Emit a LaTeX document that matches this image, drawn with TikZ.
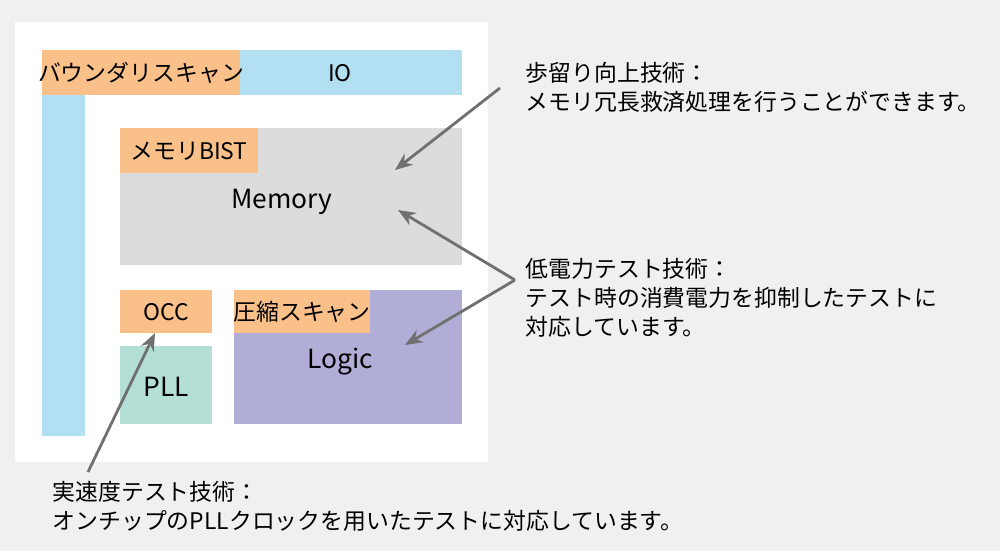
\documentclass[tikz,border=0pt]{standalone}
\usepackage{fontspec}
\setmainfont{Noto Sans CJK JP}
\usetikzlibrary{arrows.meta}
\definecolor{bggray}{HTML}{F0F0F0}
\definecolor{ioblue}{HTML}{B3DFF3}
\definecolor{tagorange}{HTML}{F9C08A}
\definecolor{memgray}{HTML}{DCDCDC}
\definecolor{plltea}{HTML}{B3DFD6}
\definecolor{logicpurple}{HTML}{B0AED6}
\definecolor{arrowgray}{HTML}{707070}
\tikzset{
  blk/.style={inner sep=0pt, outer sep=0pt},
  lbl/.style={font=\fontsize{6.5}{8}\selectfont, inner sep=0pt},
  big/.style={font=\fontsize{7.5}{9}\selectfont, inner sep=0pt},
  note/.style={font=\fontsize{6.5}{8.2}\selectfont, align=left, anchor=north west, inner sep=0pt},
  pointer/.style={draw=arrowgray, line width=0.8pt, -{Stealth[length=5pt,width=4pt]}}
}
\begin{document}
\begin{tikzpicture}[x=0.01cm, y=-0.01cm]
    \useasboundingbox (0,0) rectangle (1000,551);
    \fill[bggray] (0,0) rectangle (1000,551);
    \fill[white] (15,22) rectangle (488,462);

    % boundary scan
    \fill[ioblue] (42,50) rectangle (462,95);
    \fill[ioblue] (42,95) rectangle (85,436);
    \fill[tagorange] (42,50) rectangle (240,95);
    \node[lbl] (bscan) at (141,73) {バウンダリスキャン};
    \node[lbl] (io) at (340,73) {IO};

    % memory
    \fill[memgray] (120,128) rectangle (462,265);
    \fill[tagorange] (120,128) rectangle (258,173);
    \node[lbl] (bist) at (189,151) {メモリBIST};
    \node[big] (mem) at (282,202) {Memory};

    % occ / pll
    \fill[tagorange] (120,290) rectangle (212,333);
    \node[lbl] (occ) at (166,312) {OCC};
    \fill[plltea] (120,346) rectangle (212,424);
    \node[big] (pll) at (166,387) {PLL};

    % logic
    \fill[logicpurple] (234,290) rectangle (462,424);
    \fill[tagorange] (234,290) rectangle (370,333);
    \node[lbl] (comp) at (302,312) {圧縮スキャン};
    \node[big] (logic) at (340,362) {Logic};

    % notes
    \node[note] (yield) at (525,62) {歩留り向上技術：\\メモリ冗長救済処理を行うことができます。};
    \node[note] (lowpw) at (525,258) {低電力テスト技術：\\テスト時の消費電力を抑制したテストに\\対応しています。};
    \node[note] (atspeed) at (52,481) {実速度テスト技術：\\オンチップのPLLクロックを用いたテストに対応しています。};

    \coordinate (yieldtip) at (395,170);
    \coordinate (memtip) at (398,210);
    \coordinate (logictip) at (405,345);
    \coordinate (occtip) at (155,333);
    \draw[pointer] (500,88) -- (yieldtip);
    \draw[pointer] (515,280) -- (memtip);
    \draw[pointer] (515,280) -- (logictip);
    \draw[pointer] (88,472) -- (occtip);
\end{tikzpicture}
\end{document}
